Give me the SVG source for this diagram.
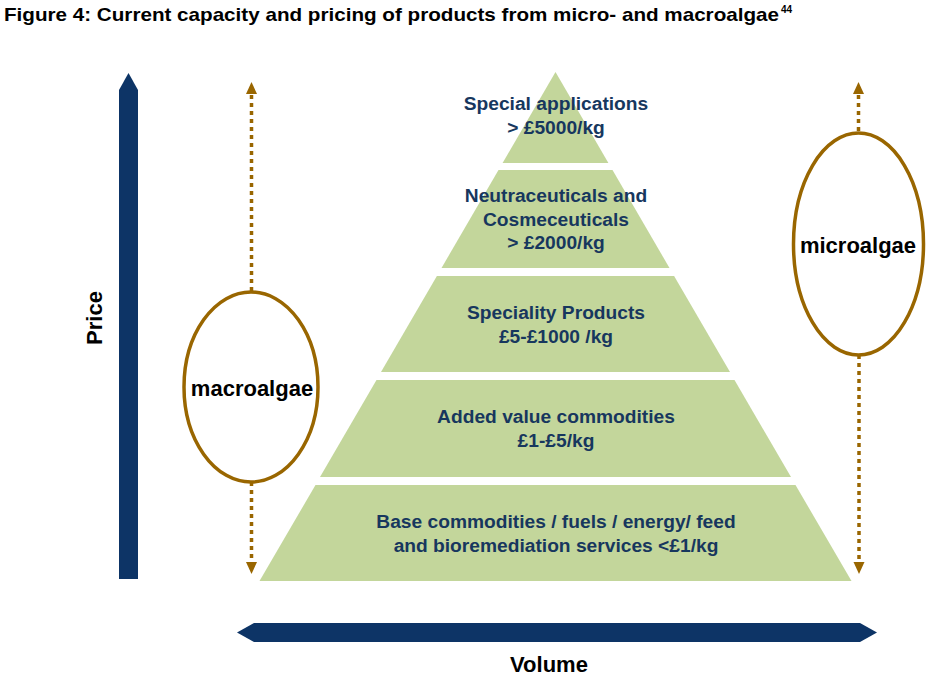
<svg xmlns="http://www.w3.org/2000/svg" width="939" height="685" viewBox="0 0 939 685">
<style>
.t{font-family:"Liberation Sans",Arial,sans-serif;font-weight:bold;}
.lvl{fill:#C3D69B;}
.lab{font-size:19.2px;fill:#17375E;text-anchor:middle;}
.big{font-size:22px;fill:#000;text-anchor:middle;}
.dot{stroke:#996600;stroke-width:3.5;stroke-dasharray:4 4;fill:none;}
.ell{stroke:#996600;stroke-width:3.5;fill:#fff;}
.head{fill:#996600;}
.nav{fill:#0D3466;}
</style>
<rect width="939" height="685" fill="#fff"/>
<g id="title">
<text class="t" x="4" y="21" font-size="18.5" textLength="775" lengthAdjust="spacingAndGlyphs">Figure 4: Current capacity and pricing of products from micro- and macroalgae</text>
<text class="t" x="781" y="13" font-size="10">44</text>
</g>
<g id="price-axis">
<polygon class="nav" points="128.5,73 138,90 138,579 119,579 119,90"/>
<text class="t big" transform="translate(102,318) rotate(-90)">Price</text>
</g>
<g id="volume-axis">
<polygon class="nav" points="237,632.5 254,623 860,623 877,632.5 860,642 254,642"/>
<text class="t big" x="549" y="672">Volume</text>
</g>
<g id="pyramid">
<g id="level1"><polygon class="lvl" points="555.5,72 608.4,163 502.6,163"/>
<text class="t lab" x="556" y="110">Special applications</text>
<text class="t lab" x="556" y="134">&gt; £5000/kg</text></g>
<g id="level2"><polygon class="lvl" points="498.5,170 612.5,170 669.5,268 441.5,268"/>
<text class="t lab" x="556" y="202">Neutraceuticals and</text>
<text class="t lab" x="556" y="226">Cosmeceuticals</text>
<text class="t lab" x="556" y="249">&gt; £2000/kg</text></g>
<g id="level3"><polygon class="lvl" points="436.9,276 674.1,276 730,372 381,372"/>
<text class="t lab" x="556" y="319">Speciality Products</text>
<text class="t lab" x="556" y="343">£5-£1000 /kg</text></g>
<g id="level4"><polygon class="lvl" points="376.5,380 734.5,380 791,477 320,477"/>
<text class="t lab" x="556" y="423">Added value commodities</text>
<text class="t lab" x="556" y="447">£1-£5/kg</text></g>
<g id="level5"><polygon class="lvl" points="315.5,485 795.5,485 851.5,581 259.5,581"/>
<text class="t lab" x="556" y="528">Base commodities / fuels / energy/ feed</text>
<text class="t lab" x="556" y="552">and bioremediation services &lt;£1/kg</text></g>
</g>
<g id="connectors">
<line class="dot" x1="251.5" y1="95" x2="251.5" y2="292"/>
<polygon class="head" points="251.5,82 257,94 246,94"/>
<line class="dot" x1="251.5" y1="482" x2="251.5" y2="562"/>
<polygon class="head" points="251.5,574 257,562 246,562"/>
<line class="dot" x1="858.5" y1="95" x2="858.5" y2="133"/>
<polygon class="head" points="858.5,82 864,94 853,94"/>
<line class="dot" x1="859" y1="355" x2="859" y2="562"/>
<polygon class="head" points="859,574 864.5,562 853.5,562"/>
</g>
<g id="macroalgae">
<ellipse class="ell" cx="251" cy="387" rx="67" ry="95"/>
<text class="t big" x="252" y="396">macroalgae</text>
</g>
<g id="microalgae">
<ellipse class="ell" cx="858.5" cy="244" rx="65" ry="111"/>
<text class="t big" x="858" y="253">microalgae</text>
</g>
</svg>
